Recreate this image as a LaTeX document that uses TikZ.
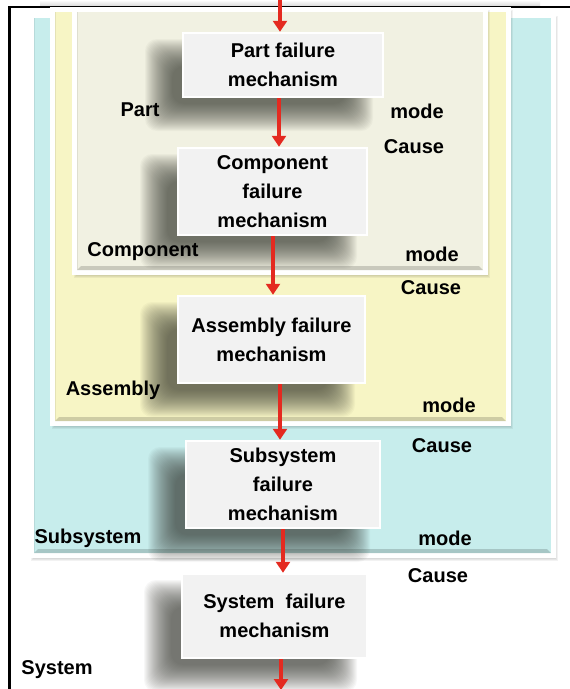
\documentclass[tikz,border=0pt]{standalone}
\usepackage{fontspec}
\setmainfont{Liberation Sans}
\usetikzlibrary{arrows.meta}

\definecolor{cyanfill}{RGB}{199,237,236}
\definecolor{yellowfill}{RGB}{247,245,197}
\definecolor{beigefill}{RGB}{241,241,226}
\definecolor{mechfill}{RGB}{242,242,242}
\definecolor{arrred}{RGB}{228,42,32}
\definecolor{shadowc}{RGB}{50,52,45}

% framed level panel: x1 y1 x2 y2 colour
\newcommand\drawpanel[5]{%
  \foreach \k in {0,...,3}{%
    \fill[black,opacity=0.05] ({#1-5+\k+2},{#2-5+\k+3}) rectangle ({#3+5-\k+2},{#4+5-\k+3});}
  \fill[white] ({#1-5},{#2-5}) rectangle ({#3+5},{#4+5});
  \fill[#5] (#1,#2) rectangle (#3,#4);
  \fill[#5!70!black,opacity=0.55] (#1,#4) -- (#3,#4) -- ({#3-4},{#4-4}) -- ({#1+4},{#4-4}) -- cycle;
  \fill[#5!85!black,opacity=0.5] (#1,#2) rectangle ({#1+1.2},#4);
}
% soft blurred drop shadow of a mechanism box: x1 y1 x2 y2
\newcommand\softshadow[4]{%
  \foreach \k in {0,...,27}{%
    \fill[shadowc,opacity=0.034,rounded corners=12pt]
      ({#1-24-14+\k},{#2+20-14+\k}) rectangle ({#3-24+14-\k},{#4+20+14-\k});}
}

\begin{document}
\begin{tikzpicture}[x=1pt,y=-1pt,
  lbl/.style={font=\bfseries\fontsize{20}{24}\selectfont,inner sep=0pt},
  mech/.style={fill=mechfill,draw=white,line width=2.5pt,align=center,
    font=\bfseries\fontsize{20}{29}\selectfont,inner sep=0pt},
  arr/.style={draw=arrred,line width=3.5pt,-{Triangle[width=14pt,length=11pt]}}]
\useasboundingbox (0,0) rectangle (570,689);
\fill[white] (0,0) rectangle (570,689);

% outer frame
\shade[top color=white,bottom color=gray!30] (40,0) rectangle (540,6);
\draw[line width=2.6pt] (9.5,689) -- (9.5,7) -- (570,7);

% nested level panels
\drawpanel{34}{18}{551}{553}{cyanfill}
\drawpanel{55}{12}{506}{421}{yellowfill}
\drawpanel{77}{12}{483}{270}{beigefill}

% failure mechanism boxes
\softshadow{183}{33}{383}{97}
\node[mech,minimum width=200pt,minimum height=64pt] (part) at (283,65) {Part failure\\mechanism};
\softshadow{178}{148}{367}{235}
\node[mech,minimum width=189pt,minimum height=87pt] (comp) at (272.5,191.5) {Component\\failure\\mechanism};
\softshadow{178}{296}{365}{383}
\node[mech,minimum width=187pt,minimum height=87pt] (asm) at (271.5,339.5) {Assembly failure\\mechanism};
\softshadow{186}{441}{380}{528}
\node[mech,minimum width=194pt,minimum height=87pt] (subs) at (283,484.5) {Subsystem\\failure\\mechanism};
\softshadow{182}{574}{367}{658}
\node[mech,minimum width=185pt,minimum height=84pt] (sys) at (274.5,616) {System\ \ failure\\mechanism};

% cause-to-mode arrows
\coordinate (in) at (280,-2);
\coordinate (out) at (281,690);
\draw[arr] (in) -- (part.north -| in);
\draw[arr] ([xshift=-4pt]part.south) -- ([xshift=-4pt]part.south |- comp.north);
\draw[arr] ([xshift=0.5pt]comp.south) -- ([xshift=0.5pt]comp.south |- asm.north);
\draw[arr] ([xshift=8.5pt]asm.south) -- ([xshift=8.5pt]asm.south |- subs.north);
\draw[arr] (subs.south) -- (subs.south |- sys.north);
\draw[arr] (sys.south -| out) -- (out);

% level labels
\node[lbl] (lpart) at (140,110) {Part};
\node[lbl] (mpart) at (417,111) {mode};
\node[lbl] (cpart) at (414,147) {Cause};
\node[lbl] (lcomp) at (143,252) {Component};
\node[lbl] (mcomp) at (432,254) {mode};
\node[lbl] (ccomp) at (431,288) {Cause};
\node[lbl] (lasm) at (113,390) {Assembly};
\node[lbl] (masm) at (449,405) {mode};
\node[lbl] (casm) at (442,446) {Cause};
\node[lbl] (lsubs) at (88,538) {Subsystem};
\node[lbl] (msubs) at (445,538) {mode};
\node[lbl] (csubs) at (438,576) {Cause};
\node[lbl] (lsys) at (57,670) {System};
\end{tikzpicture}
\end{document}
